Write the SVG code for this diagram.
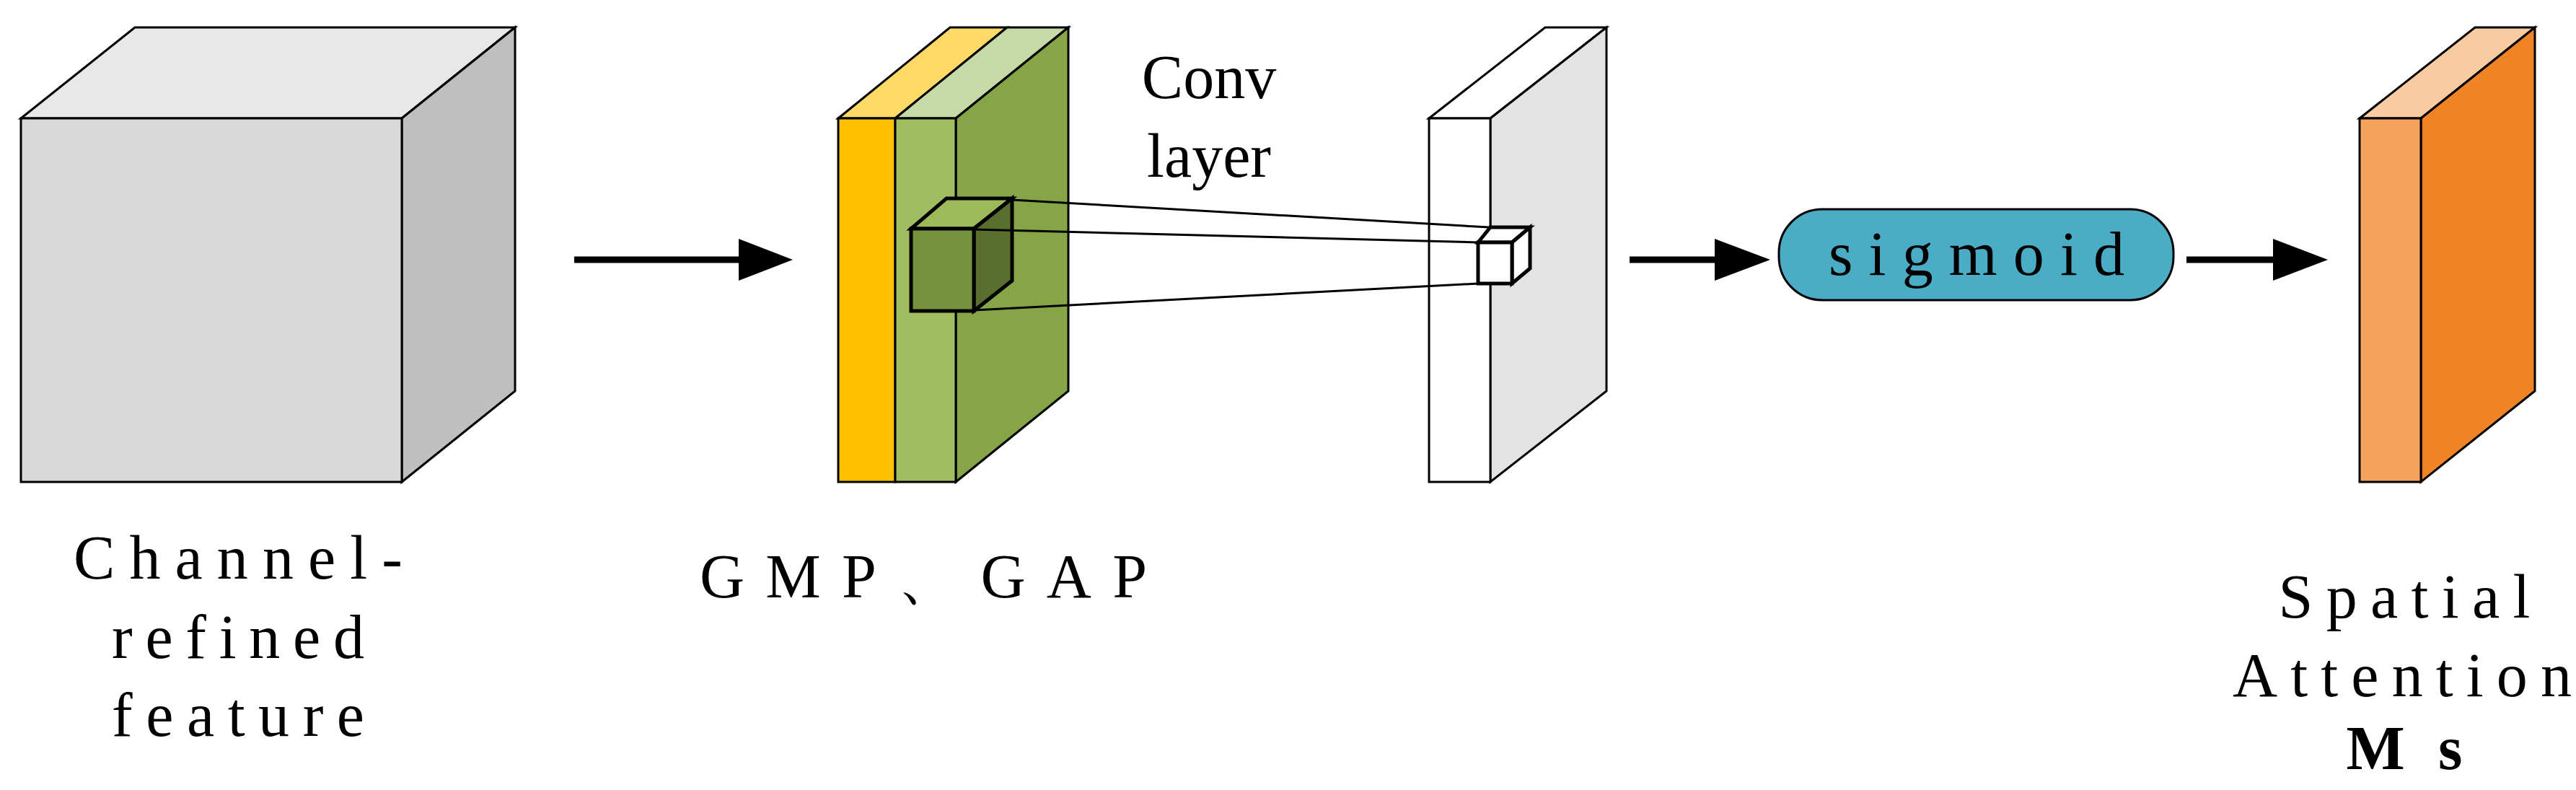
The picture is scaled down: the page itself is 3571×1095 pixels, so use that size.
<svg xmlns="http://www.w3.org/2000/svg" width="3571" height="1095" viewBox="0 0 3571 1095">
<style>
.s{stroke:#000;stroke-width:3;stroke-linejoin:miter}
.t{font-family:"Liberation Serif","DejaVu Serif",serif;font-size:86px;fill:#000;text-anchor:middle}
.ln{stroke:#000;stroke-width:3;fill:none}
.ar{stroke:#000;stroke-width:9;fill:none}
</style>
<rect width="3571" height="1095" fill="#fff"/>
<g id="channel-feature">
<polygon class="s" fill="#e8e8e8" points="29,164 187,38 714,38 557,164"/>
<polygon class="s" fill="#bfbfbf" points="557,164 714,38 714,542 557,668"/>
<rect class="s" fill="#d9d9d9" x="29" y="164" width="528" height="504"/>
<text class="t" x="330" y="802" textLength="456">Channel-</text>
<text class="t" x="330" y="912" textLength="350">refined</text>
<text class="t" x="330" y="1020" textLength="350">feature</text>
</g>
<g id="pooling">
<polygon class="s" fill="#ffd966" points="1162,164 1317,38 1396,38 1241,164"/>
<polygon class="s" fill="#c6d9a6" points="1241,164 1396,38 1481,38 1325,164"/>
<polygon class="s" fill="#86a546" points="1325,164 1481,38 1481,542 1325,668"/>
<rect class="s" fill="#ffc000" x="1162" y="164" width="79" height="504"/>
<rect class="s" fill="#9fbe62" x="1241" y="164" width="84" height="504"/>
<g stroke="#000" stroke-width="5" stroke-linejoin="miter">
<polygon fill="#9bbb59" points="1263,317 1312,275 1403,275 1350,317"/>
<polygon fill="#5a6e2d" points="1350,317 1403,275 1403,389 1350,431"/>
<rect fill="#76923c" x="1263" y="317" width="87" height="114"/>
</g>
<text class="t" x="1280" y="828" textLength="620">GMP、GAP</text>
</g>
<g id="conv-layer">
<polygon class="s" fill="#ffffff" points="1981,164 2142,38 2227,38 2066,164"/>
<polygon class="s" fill="#e3e3e3" points="2066,164 2227,38 2227,542 2066,668"/>
<rect class="s" fill="#ffffff" x="1981" y="164" width="85" height="504"/>
<g stroke="#000" stroke-width="5">
<polygon fill="#fff" points="2049,336 2066,315 2121,315 2096,336"/>
<polygon fill="#fff" points="2096,336 2121,315 2121,372 2096,393"/>
<rect fill="#fff" x="2049" y="336" width="47" height="57"/>
</g>
<text class="t" x="1676" y="136">Conv</text>
<text class="t" x="1676" y="245">layer</text>
</g>
<g id="sigmoid">
<rect x="2466" y="290" width="547" height="126" rx="60" ry="60" fill="#4bacc6" stroke="#000" stroke-width="3"/>
<text class="t" x="2740" y="381" font-size="84" textLength="410">sigmoid</text>
</g>
<g id="spatial-attention">
<polygon class="s" fill="#f8cba0" points="3271,164 3431,38 3514,38 3356,164"/>
<polygon class="s" fill="#ef8427" points="3356,164 3514,38 3514,542 3356,668"/>
<rect class="s" fill="#f5a25c" x="3271" y="164" width="85" height="504"/>
<text class="t" x="3333" y="856" textLength="349">Spatial</text>
<text class="t" x="3330" y="965" textLength="470">Attention</text>
<text class="t" x="3333" y="1066" font-weight="bold" textLength="161">Ms</text>
</g>
<g id="connectors">
<line class="ln" x1="1403" y1="277" x2="2064" y2="315"/>
<line class="ln" x1="1350" y1="318" x2="2049" y2="336"/>
<line class="ln" x1="1350" y1="430" x2="2049" y2="393"/>
<line class="ar" x1="796" y1="360" x2="1030" y2="360"/>
<polygon points="1024,331 1099,360 1024,389" fill="#000"/>
<line class="ar" x1="2259" y1="360" x2="2380" y2="360"/>
<polygon points="2377,331 2454,360 2377,389" fill="#000"/>
<line class="ar" x1="3031" y1="360" x2="3155" y2="360"/>
<polygon points="3151,331 3227,360 3151,389" fill="#000"/>
</g>
</svg>
